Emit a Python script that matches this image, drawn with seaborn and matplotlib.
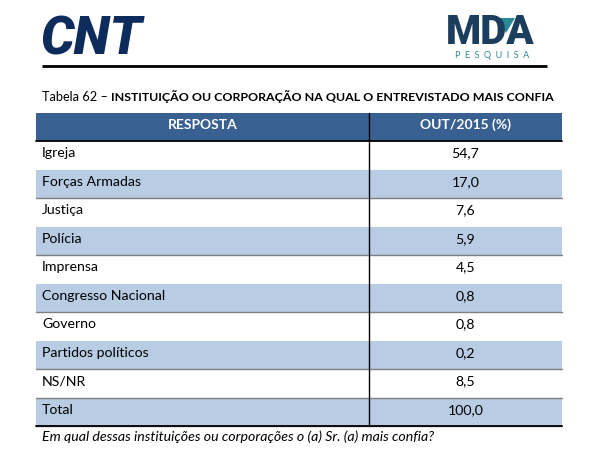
import matplotlib
matplotlib.use("Agg")
import matplotlib.pyplot as plt
import seaborn as sns
from matplotlib.patches import Polygon

sns.set_theme(style="white")
plt.rcParams['font.family'] = ['Lato', 'DejaVu Sans']

# ---- data ----
categories = ["Igreja", "Forças Armadas", "Justiça", "Polícia", "Imprensa",
              "Congresso Nacional", "Governo", "Partidos políticos", "NS/NR", "Total"]
values = [54.7, 17.0, 7.6, 5.9, 4.5, 0.8, 0.8, 0.2, 8.5, 100.0]
col_headers = ["RESPOSTA", "OUT/2015 (%)"]
title_prefix = "Tabela 62 – "
title_bold = "INSTITUIÇÃO OU CORPORAÇÃO NA QUAL O ENTREVISTADO MAIS CONFIA"
footnote = "Em qual dessas instituições ou corporações o (a) Sr. (a) mais confia?"

HEADER = "#386192"
LIGHT = "#b8cce4"
NAVY = "#0d2c5c"
TEAL = "#2a8a93"

fig = plt.figure(figsize=(6.0, 4.66), dpi=100)
ax = fig.add_axes([0, 0, 1, 1])
ax.set_xlim(0, 600)
ax.set_ylim(466, 0)
ax.axis("off")

# ---- logos ----
ax.text(40, 40, "CNT", fontsize=38, fontweight="black", style="italic",
        family=["Roboto", "DejaVu Sans"], color=NAVY, va="center", ha="left")
ax.text(446, 33, "MDA", fontsize=29, fontweight="black", color="#1b3d5e",
        family=["Roboto", "DejaVu Sans"], va="center", ha="left")
ax.add_patch(Polygon([[497, 18], [515, 18], [506, 33]], closed=True,
                     facecolor=TEAL, edgecolor="none"))
ax.text(492, 56, "P  E  S  Q  U  I  S  A", fontsize=6.5, color=TEAL,
        va="center", ha="center")
ax.plot([42, 547], [66, 66], color="black", lw=2, solid_capstyle="butt")

# ---- title ----
t = ax.text(42, 97, title_prefix, fontsize=9.2, color="black", va="center", ha="left")
fig.canvas.draw()
bb = t.get_window_extent()
inv = ax.transData.inverted()
x_end = inv.transform((bb.x1, bb.y0))[0]
ax.text(x_end, 97, title_bold, fontsize=8.9, fontweight="bold", color="black",
        va="center", ha="left")

# ---- table ----
x0, xm, x1 = 36, 369, 562
head_top, head_bot = 113, 141
row_h = 28.5

ax.fill_between([x0, x1], head_top, head_bot, color=HEADER, lw=0)
ax.text((x0 + xm) / 2, 125, col_headers[0], fontsize=10, fontweight="bold",
        color="white", va="center", ha="center")
ax.text((xm + x1) / 2, 125, col_headers[1], fontsize=10, fontweight="bold",
        color="white", va="center", ha="center")

for i, (cat, val) in enumerate(zip(categories, values)):
    top = head_bot + row_h * i
    bot = top + row_h
    light = (i % 2 == 1) or cat == "Total"
    if light:
        ax.fill_between([x0, x1], top, bot, color=LIGHT, lw=0)
        ax.plot([x0, x1], [bot, bot], color="#7f7f7f", lw=1)
    if cat == "Total":
        ax.plot([x0, x1], [top, top], color="#7f7f7f", lw=1)
    yc = top + row_h / 2 - 2
    ax.text(42, yc, cat, fontsize=10.2, color="black", va="center", ha="left")
    ax.text((xm + x1) / 2, yc, f"{val:.1f}".replace(".", ","), fontsize=10.2,
            color="black", va="center", ha="center")

table_bot = head_bot + row_h * len(categories)
ax.plot([x0, x1], [head_bot, head_bot], color="black", lw=1.3)
ax.plot([x0, x1], [table_bot, table_bot], color="black", lw=1.3)
ax.plot([xm, xm], [head_top, table_bot], color="black", lw=1)

# ---- footnote ----
ax.text(42, 437, footnote, fontsize=10.2, style="italic", color="black",
        va="center", ha="left")

fig.savefig("out.png", dpi=100, facecolor="white")
